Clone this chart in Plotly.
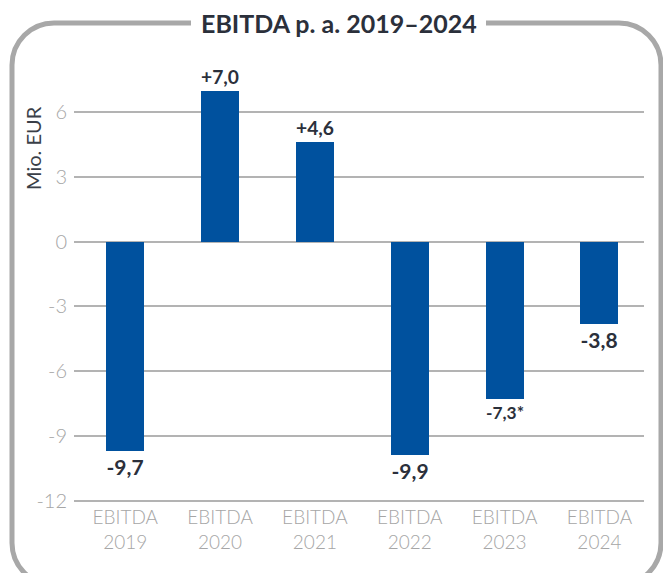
import plotly.graph_objects as go

categories = ["EBITDA<br>2019", "EBITDA<br>2020", "EBITDA<br>2021",
              "EBITDA<br>2022", "EBITDA<br>2023", "EBITDA<br>2024"]
values = [-9.7, 7.0, 4.6, -9.9, -7.3, -3.8]
value_labels = ["-9,7", "+7,0", "+4,6", "-9,9", "-7,3*", "-3,8"]
tick_vals = [6, 3, 0, -3, -6, -9, -12]
tick_text = ["6", "3", "0", "-3", "-6", "-9", "-12"]
title_text = "EBITDA p. a. 2019–2024"
y_label = "Mio. EUR"

W, H = 663, 573
Y_MIN, Y_MAX = -12.15, 8.6
# target on screen: x 74..644 ; y=6 at 112, y=-12 at 501
UNIT = (501 - 112) / 18.0
ML = 74
PW = 644 - 74
MT = round(112 - (Y_MAX - 6) * UNIT)
PH = round((Y_MAX - Y_MIN) * UNIT)
MR = W - ML - PW
MB = H - MT - PH

def px(x):
    return (x - ML) / PW

def py(y):
    return (MT + PH - y) / PH

fig = go.Figure()
fig.add_trace(go.Bar(
    x=list(range(len(categories))), y=values,
    width=0.4,
    marker=dict(color="#00519E", line=dict(width=0)),
    text=value_labels, textposition="outside",
    textfont=dict(family="Lato", size=21, color="#2b303b", weight=700),
    cliponaxis=False,
    hoverinfo="skip",
))

# rounded frame with gap for title (screen pixel coordinates)
L, R, T, B, r = 12, 661, 23, 585, 42
k = 0.5523 * r
pts = [
    ("M", [(486, T)]),
    ("L", [(R - r, T)]),
    ("C", [(R - r + k, T), (R, T + r - k), (R, T + r)]),
    ("L", [(R, B - r)]),
    ("C", [(R, B - r + k), (R - r + k, B), (R - r, B)]),
    ("L", [(L + r, B)]),
    ("C", [(L + r - k, B), (L, B - r + k), (L, B - r)]),
    ("L", [(L, T + r)]),
    ("C", [(L, T + r - k), (L + r - k, T), (L + r, T)]),
    ("L", [(191, T)]),
]
path = " ".join(cmd + " " + " ".join(f"{px(a):.5f},{py(b):.5f}" for a, b in p) for cmd, p in pts)
fig.add_shape(type="path", path=path, xref="paper", yref="paper",
              line=dict(color="#a8a8a8", width=5))

fig.add_annotation(text="<b>" + title_text + "</b>", xref="paper", yref="paper",
                   x=px(339), y=py(23), xanchor="center", yanchor="middle",
                   showarrow=False,
                   font=dict(family="Lato", size=25, color="#2b303b"))
fig.add_annotation(text=y_label, xref="paper", yref="paper",
                   x=px(33), y=py(148), xanchor="center", yanchor="middle",
                   textangle=-90, showarrow=False,
                   font=dict(family="Lato", size=20, color="#3a3f48"))

fig.update_layout(
    width=W, height=H,
    margin=dict(l=ML, r=MR, t=MT, b=MB),
    paper_bgcolor="white", plot_bgcolor="white",
    showlegend=False,
    bargap=0,
    xaxis=dict(range=[-0.54, 5.47], tickvals=list(range(len(categories))),
               ticktext=categories, showgrid=False, zeroline=False,
               showline=False, ticks="",
               tickfont=dict(family="Lato", size=19, color="#a6a6a6", weight=300)),
    yaxis=dict(range=[Y_MIN, Y_MAX], tickvals=tick_vals, ticktext=tick_text,
               showgrid=True, gridcolor="#b3b3b3", gridwidth=1.5,
               zeroline=False, showline=False, ticks="",
               ticklabelstandoff=6,
               tickfont=dict(family="Lato", size=20, color="#a6a6a6", weight=300)),
)

fig.write_html(
    "out.html",
    config={"displayModeBar": False},
    post_script="document.body.style.margin='0';document.body.style.overflow='hidden';",
)
